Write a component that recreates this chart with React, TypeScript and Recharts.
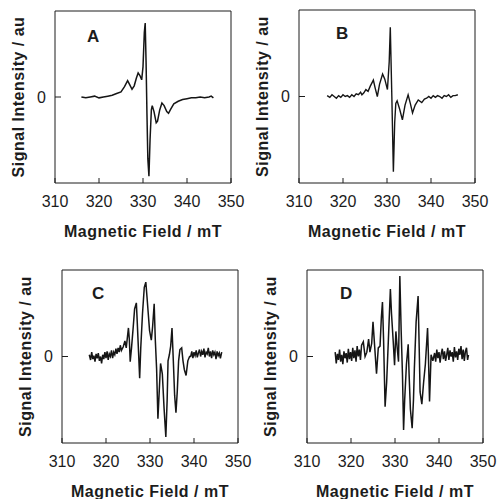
import React from 'react';
import { LineChart, Line, XAxis, YAxis, ReferenceArea } from 'recharts';

const FONT = '"Liberation Sans", Arial, Helvetica, sans-serif';
const INK = '#1c1c1c';

const fieldTicks = [310, 320, 330, 340, 350];
const zeroTick = [0];
const xTitle = 'Magnetic Field / mT';
const yTitle = 'Signal Intensity / au';

// Panel A
const fieldA = [316, 317, 318, 319, 320, 321, 322, 323, 324, 325, 325.8, 326.5, 327, 327.5, 328, 328.5, 328.9, 329.3, 329.7, 330, 330.3, 330.5, 330.7, 330.9, 331.1, 331.35, 331.6, 331.9, 332.1, 332.5, 333, 333.3, 333.8, 334.3, 334.8, 335.4, 335.8, 336.3, 337, 338, 339, 340, 341, 342, 343, 344, 345, 345.5, 346];
const sigA = [0, -0.01, 0, 0.01, -0.01, 0, 0.01, 0.02, 0.04, 0.06, 0.12, 0.19, 0.14, 0.09, 0.13, 0.22, 0.28, 0.25, 0.2, 0.35, 0.75, 0.86, 0.4, -0.2, -0.72, -0.92, -0.5, -0.15, -0.1, -0.17, -0.3, -0.28, -0.15, -0.07, -0.1, -0.17, -0.19, -0.14, -0.08, -0.05, -0.03, -0.02, -0.01, -0.01, 0, -0.01, 0, 0.01, -0.01];

// Panel B
const fieldB = [316.4, 317, 317.5, 318, 318.5, 319, 319.5, 320, 320.5, 321, 321.5, 322, 322.5, 323, 323.5, 324, 324.3, 324.7, 325.2, 325.7, 326.2, 326.9, 327.3, 327.8, 328.3, 329, 329.5, 330.1, 330.5, 330.75, 331.1, 331.45, 331.75, 332, 332.3, 332.9, 333.5, 334.1, 334.8, 335.3, 335.8, 336.4, 337.1, 337.9, 338.5, 339, 339.5, 340, 340.5, 341, 341.5, 342, 342.5, 343, 343.5, 344, 344.5, 345, 345.5, 346.1];
const sigB = [0.01, -0.01, 0.02, 0, -0.02, 0.01, -0.01, 0.02, 0, 0.01, -0.01, 0.02, 0, 0.03, 0.02, 0.05, 0.02, 0.04, 0.08, 0.06, 0.12, 0.19, 0.1, 0, 0.14, 0.26, 0.2, 0.08, 0.4, 0.8, 0.0, -0.87, -0.3, -0.08, -0.05, -0.15, -0.27, -0.1, 0.02, -0.08, -0.19, -0.1, -0.04, -0.07, -0.03, -0.02, 0, -0.02, 0.01, -0.01, 0.01, 0, -0.02, 0.01, 0, 0.02, -0.01, 0.01, 0.01, 0.02];

// Panel C
const fieldC = [316.2, 316.5, 316.75, 317, 317.25, 317.5, 317.75, 318, 318.25, 318.5, 318.75, 319, 319.25, 319.5, 319.75, 320, 320.25, 320.5, 320.75, 321, 321.25, 321.5, 321.75, 322, 322.25, 322.5, 322.75, 323, 323.25, 323.5, 323.9,
  324.3, 324.6, 325.1, 325.3, 325.5, 325.8, 326.2, 326.5, 326.9, 327.1, 327.4, 327.65, 327.9, 328.3, 328.7, 329.05, 329.3, 329.6, 329.9, 330.3, 330.6, 330.95, 331.2, 331.5, 331.8, 332.1, 332.4, 332.8, 333.2, 333.6, 333.9, 334.1, 334.4, 334.7, 335.0, 335.3, 335.6, 335.9, 336.2, 336.5, 336.8, 337.2, 337.5, 337.8, 338.2, 338.6,
  339, 339.25, 339.5, 339.75, 340, 340.25, 340.5, 340.75, 341, 341.25, 341.5, 341.75, 342, 342.25, 342.5, 342.75, 343, 343.25, 343.5, 343.75, 344, 344.25, 344.5, 344.75, 345, 345.25, 345.5, 345.75, 346, 346.3];
const sigC = [0.02, -0.04, 0.05, -0.03, 0.01, -0.06, 0.03, -0.02, 0.04, -0.05, 0.0, -0.08, 0.02, -0.03, 0.05, -0.02, 0.06, -0.04, 0.03, 0.0, 0.07, -0.02, 0.05, 0.02, 0.09, 0.03, 0.1, 0.05, 0.13, 0.07, 0.11,
  0.18, 0.1, 0.33, 0.2, -0.06, 0.1, 0.35, 0.55, 0.62, 0.4, 0.05, -0.25, 0.1, 0.5, 0.8, 0.86, 0.7, 0.5, 0.3, 0.19, 0.35, 0.61, 0.2, -0.14, -0.72, -0.4, -0.08, -0.2, -0.6, -0.93, -0.5, -0.05, 0.02, 0.12, 0.33, -0.05, -0.45, -0.65, -0.4, -0.05, 0.08, 0.1, -0.05, -0.15, -0.22, -0.05, 0.0,
  0.0, 0.06, -0.02, 0.05, 0.01, 0.07, -0.01, 0.04, 0.08, 0.0, 0.06, 0.02, 0.09, -0.01, 0.05, 0.03, 0.1, 0.0, 0.06, -0.02, 0.07, 0.02, 0.05, -0.03, 0.06, 0.01, 0.04, -0.02, 0.05, 0.0];

// Panel D
const fieldD = [316.4, 316.65, 316.9, 317.15, 317.4, 317.65, 317.9, 318.15, 318.4, 318.65, 318.9, 319.15, 319.4, 319.65, 319.9, 320.15, 320.4, 320.65, 320.9, 321.15, 321.4, 321.65, 321.9, 322.15, 322.4,
  322.8, 323.2, 323.6, 324.0, 324.3, 324.7, 325.0, 325.4, 325.8, 326.2, 326.6, 326.9, 327.15, 327.4, 327.75, 328.1, 328.5, 328.95, 329.2, 329.6, 329.9, 330.2, 330.5, 330.8, 331.1, 331.4, 331.7, 331.95, 332.2, 332.6, 333.0, 333.2, 333.5, 333.9, 334.2, 334.4, 334.8, 335.25, 335.5, 335.7, 336.1, 336.5, 336.9, 337.4, 337.6, 337.85, 338.2, 338.6,
  339, 339.25, 339.5, 339.75, 340, 340.25, 340.5, 340.75, 341, 341.25, 341.5, 341.75, 342, 342.25, 342.5, 342.75, 343, 343.25, 343.5, 343.75, 344, 344.25, 344.5, 344.75, 345, 345.25, 345.5, 345.75, 346, 346.25, 346.5, 346.7];
const sigD = [0.05, -0.08, 0.03, -0.04, 0.08, -0.06, 0.02, -0.09, 0.06, -0.02, 0.04, -0.07, 0.09, -0.03, 0.05, -0.05, 0.1, -0.02, 0.07, -0.06, 0.12, 0.0, 0.08, -0.04, 0.13,
  0.17, 0.0, 0.05, 0.2, 0.05, 0.15, 0.4, 0.1, -0.2, 0.1, 0.12, 0.45, 0.63, 0.2, -0.58, -0.3, 0.2, 0.78, 0.5, 0.17, -0.1, 0.29, 0.1, -0.06, 0.93, 0.3, -0.21, -0.85, -0.5, -0.09, 0.14, -0.2, -0.61, -0.83, -0.5, -0.14, 0.4, 0.7, 0.1, -0.41, -0.55, -0.3, -0.09, 0.33, 0.0, -0.52, 0.02, -0.05,
  0.04, -0.06, 0.08, -0.02, 0.05, -0.07, 0.03, 0.09, -0.03, 0.06, -0.05, 0.02, 0.1, -0.04, 0.07, 0.0, 0.05, -0.06, 0.11, -0.01, 0.06, -0.04, 0.09, 0.02, 0.12, -0.03, 0.08, -0.05, 0.06, 0.1, -0.04, 0.02];

const zip = (f: number[], s: number[]) => f.map((x, i) => ({ f: x, v: s[i] }));

type Panel = {
  key: string;
  letter: string;
  left: number;
  top: number;
  w: number;
  h: number;
  px0: number;
  px1: number;
  py0: number;
  py1: number;
  lx: number;
  ly: number;
  sw: number;
  data: { f: number; v: number }[];
};

const panels: Panel[] = [
  { key: 'A', letter: 'A', left: 0, top: 0, w: 249, h: 250, px0: 55, px1: 231, py0: 11, py1: 183, lx: 87, ly: 42, sw: 1.5, data: zip(fieldA, sigA) },
  { key: 'B', letter: 'B', left: 249, top: 0, w: 249, h: 250, px0: 50, px1: 226, py0: 10, py1: 183, lx: 87, ly: 39, sw: 1.4, data: zip(fieldB, sigB) },
  { key: 'C', letter: 'C', left: 0, top: 250, w: 264, h: 249, px0: 62, px1: 238, py0: 20, py1: 193, lx: 92, ly: 49, sw: 1.5, data: zip(fieldC, sigC) },
  { key: 'D', letter: 'D', left: 249, top: 250, w: 249, h: 249, px0: 58, px1: 234, py0: 20, py1: 193, lx: 91, ly: 49, sw: 1.5, data: zip(fieldD, sigD) },
];

const XTick = (props: any) => {
  const { x, y, payload } = props;
  return (
    <g>
      <line x1={x} x2={x} y1={y} y2={y - 5} stroke={INK} strokeWidth={1} />
      <text x={x} y={y + 24} textAnchor="middle" fontFamily={FONT} fontSize={16} fill={INK}>
        {payload.value}
      </text>
    </g>
  );
};

const YTick = (props: any) => {
  const { x, y, payload } = props;
  return (
    <g>
      <line x1={x} x2={x + 6} y1={y} y2={y} stroke={INK} strokeWidth={1} />
      <text x={x - 9} y={y} dy="0.36em" textAnchor="end" fontFamily={FONT} fontSize={16} fill={INK}>
        {payload.value}
      </text>
    </g>
  );
};

const PanelChart = ({ p }: { p: Panel }) => {
  const cx = (p.px0 + p.px1) / 2;
  const cy = (p.py0 + p.py1) / 2;
  const yt = p.px0 - 37;
  return (
    <div style={{ position: 'absolute', left: p.left, top: p.top, width: p.w, height: p.h }}>
      <LineChart
        width={p.w}
        height={p.h}
        data={p.data}
        margin={{ top: p.py0, right: p.w - p.px1, left: 0, bottom: 0 }}
      >
        <XAxis
          dataKey="f"
          type="number"
          domain={[310, 350]}
          ticks={fieldTicks}
          allowDataOverflow
          axisLine={false}
          tickLine={false}
          tickSize={0}
          tickMargin={0}
          height={p.h - p.py1}
          tick={<XTick />}
          interval={0}
          label={{
            content: () => (
              <text x={cx} y={p.py1 + 54} textAnchor="middle" fontFamily={FONT} fontSize={16} fontWeight="bold" letterSpacing={0.5} fill={INK}>
                {xTitle}
              </text>
            ),
          }}
        />
        <YAxis
          type="number"
          domain={[-1, 1]}
          ticks={zeroTick}
          allowDataOverflow
          axisLine={false}
          tickLine={false}
          tickSize={0}
          tickMargin={0}
          width={p.px0}
          tick={<YTick />}
          label={{
            content: () => (
              <text
                x={yt}
                y={cy}
                transform={`rotate(-90 ${yt} ${cy})`}
                textAnchor="middle"
                dominantBaseline="central"
                fontFamily={FONT}
                fontSize={16}
                fontWeight="bold"
                letterSpacing={0.5}
                fill={INK}
              >
                {yTitle}
              </text>
            ),
          }}
        />
        <ReferenceArea
          x1={310}
          x2={350}
          y1={-1}
          y2={1}
          fill="none"
          fillOpacity={0}
          stroke={INK}
          strokeWidth={1}
          ifOverflow="visible"
          label={{
            content: () => (
              <text x={p.lx} y={p.ly} fontFamily={FONT} fontSize={17} fontWeight="bold" fill={INK}>
                {p.letter}
              </text>
            ),
          }}
        />
        <Line
          type="linear"
          dataKey="v"
          stroke="#151515"
          strokeWidth={p.sw}
          dot={false}
          activeDot={false}
          isAnimationActive={false}
        />
      </LineChart>
    </div>
  );
};

export default function App() {
  return (
    <div style={{ position: 'absolute', left: 0, top: 0, width: 498, height: 499, overflow: 'hidden', background: '#fff' }}>
      {panels.map((p) => (
        <PanelChart key={p.key} p={p} />
      ))}
    </div>
  );
}
